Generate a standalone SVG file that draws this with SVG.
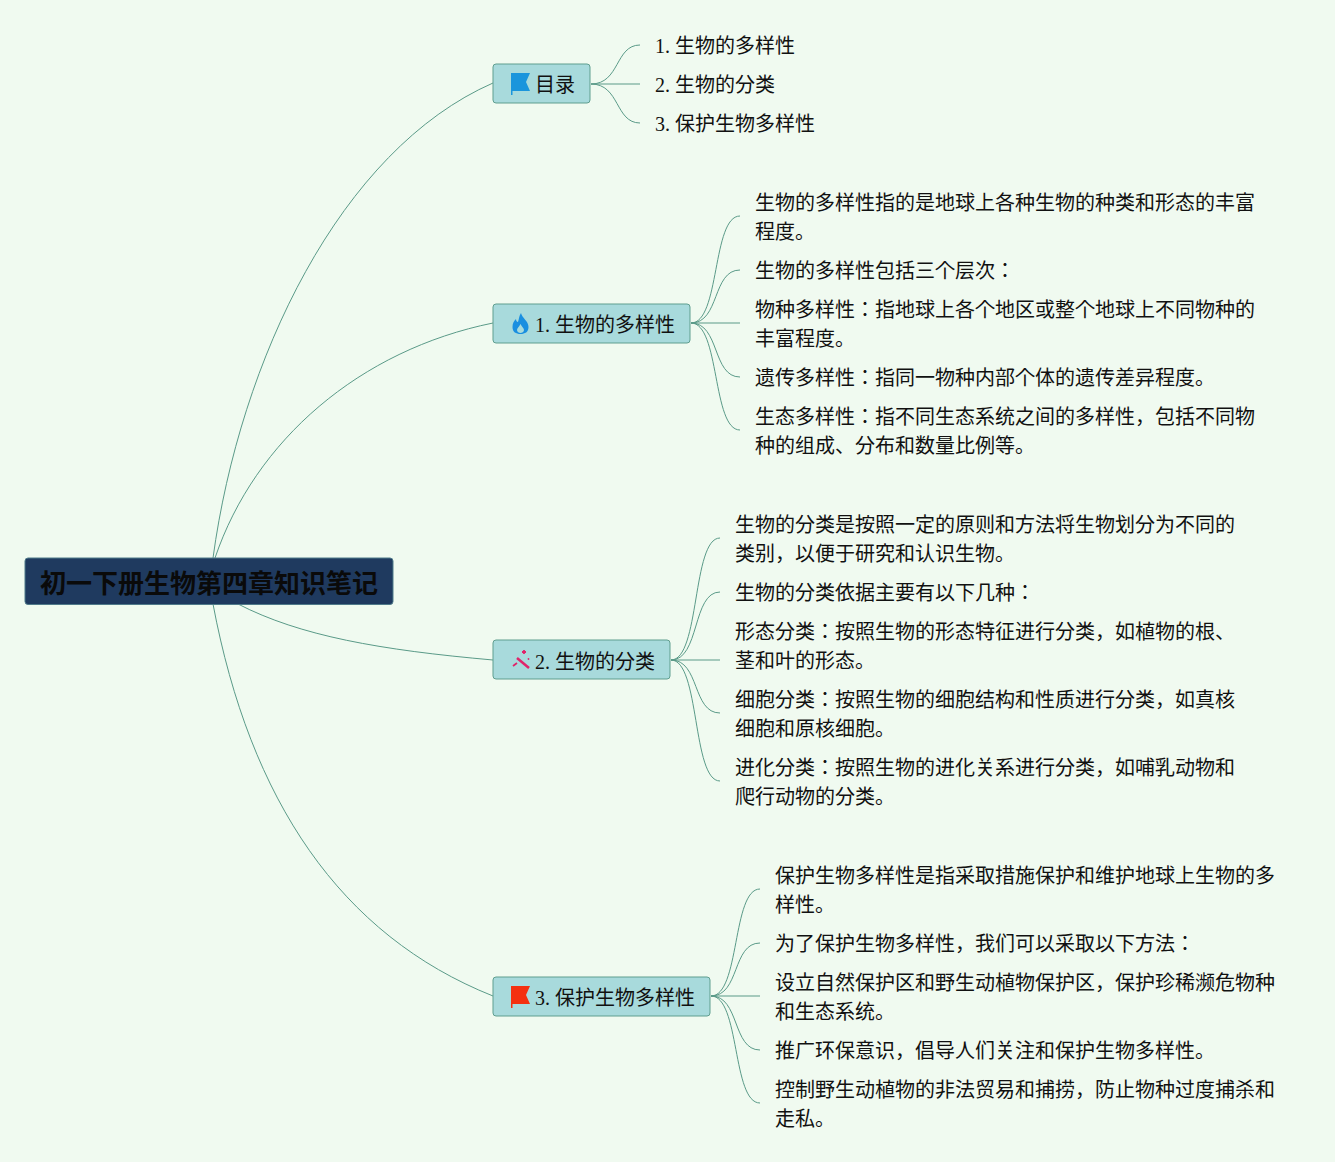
<svg xmlns="http://www.w3.org/2000/svg" width="1335" height="1162" viewBox="0 0 1335 1162">
<style>
text{font-family:"Liberation Serif","Noto Sans CJK JP",serif;font-size:20px;fill:#111}
.root{fill:#1f3a5f;stroke:#4f7a8a;stroke-width:1}
.rt{font-size:26px;font-weight:700;fill:#0a0a0a}
.box{fill:#a8dadc;stroke:#5f9e8f;stroke-width:1}
#connectors path{fill:none;stroke:#5a9a88;stroke-width:1}
</style>
<rect width="1335" height="1162" fill="#f0faf0"/>
<g id="connectors">
<path d="M213 558C240 360 340 150 493 83"/>
<path d="M215 558C255 440 360 350 493 323"/>
<path d="M238 604C300 636 380 650 493 660"/>
<path d="M213 604C250 800 340 935 493 996"/>
<path d="M591 84C620 84 615 45 640 45"/>
<path d="M591 84H640"/>
<path d="M591 84C620 84 615 123 640 123"/>
<path d="M691 323C720 323 712 216 740 216"/>
<path d="M691 323C720 323 712 270 740 270"/>
<path d="M691 323H740"/>
<path d="M691 323C720 323 712 377 740 377"/>
<path d="M691 323C720 323 712 430 740 430"/>
<path d="M671 660C700 660 692 538 720 538"/>
<path d="M671 660C700 660 692 592 720 592"/>
<path d="M671 660H720"/>
<path d="M671 660C700 660 692 713 720 713"/>
<path d="M671 660C700 660 692 781 720 781"/>
<path d="M711 996C740 996 732 889 760 889"/>
<path d="M711 996C740 996 732 943 760 943"/>
<path d="M711 996H760"/>
<path d="M711 996C740 996 732 1050 760 1050"/>
<path d="M711 996C740 996 732 1103 760 1103"/>
</g>
<g id="root"><rect class="root" x="25" y="558" width="368" height="46.500" rx="3"/><text class="rt" x="40" y="593">初一下册生物第四章知识笔记</text></g>
<g id="n0"><rect class="box" x="493" y="64" width="97" height="39" rx="3"/>
<path d="M511 73H530L526 82L530 91H512.500V95H511Z" fill="#1a95dc"/>
<text x="535" y="92">目录</text></g>
<g id="n1"><rect class="box" x="493" y="304" width="197" height="39" rx="3"/>
<path d="M521 313C522 318 528.500 321 528.500 327C528.500 332 525 334 520.500 334C516 334 512.500 332 512.500 327C512.500 323 514 321 516 319C516 321 517 322 518 322C519 319 519 316 521 313ZM520.500 324C519 327 517 328 517 330C517 332 519 333 520.500 333C522 333 524 332 524 330C524 328 522 327 520.500 324Z" fill="#1a8fe0" fill-rule="evenodd"/>
<text x="535" y="332">1. 生物的多样性</text></g>
<g id="n2"><rect class="box" x="493" y="640" width="177" height="39" rx="3"/>
<path d="M517 658L529 668" stroke="#e0246a" stroke-width="2.500" fill="none"/>
<path d="M513 666L517 663M524 650V654M522 652H526" stroke="#e0246a" stroke-width="1.800" fill="none"/>
<circle cx="528.500" cy="659" r="0.900" fill="#e0246a"/>
<text x="535" y="669">2. 生物的分类</text></g>
<g id="n3"><rect class="box" x="493" y="977" width="217" height="39" rx="3"/>
<path d="M511 986H530L526 995L530 1004H512.500V1008H511Z" fill="#f4300f"/>
<text x="535" y="1005">3. 保护生物多样性</text></g>
<g id="t0"><text x="655" y="53">1. 生物的多样性</text></g>
<g id="t1"><text x="655" y="92">2. 生物的分类</text></g>
<g id="t2"><text x="655" y="131">3. 保护生物多样性</text></g>
<g id="t3"><text x="755" y="210">生物的多样性指的是地球上各种生物的种类和形态的丰富</text><text x="755" y="239">程度。</text></g>
<g id="t4"><text x="755" y="278">生物的多样性包括三个层次：</text></g>
<g id="t5"><text x="755" y="317">物种多样性：指地球上各个地区或整个地球上不同物种的</text><text x="755" y="346">丰富程度。</text></g>
<g id="t6"><text x="755" y="385">遗传多样性：指同一物种内部个体的遗传差异程度。</text></g>
<g id="t7"><text x="755" y="424">生态多样性：指不同生态系统之间的多样性，包括不同物</text><text x="755" y="453">种的组成、分布和数量比例等。</text></g>
<g id="t8"><text x="735" y="532">生物的分类是按照一定的原则和方法将生物划分为不同的</text><text x="735" y="561">类别，以便于研究和认识生物。</text></g>
<g id="t9"><text x="735" y="600">生物的分类依据主要有以下几种：</text></g>
<g id="t10"><text x="735" y="639">形态分类：按照生物的形态特征进行分类，如植物的根、</text><text x="735" y="668">茎和叶的形态。</text></g>
<g id="t11"><text x="735" y="707">细胞分类：按照生物的细胞结构和性质进行分类，如真核</text><text x="735" y="736">细胞和原核细胞。</text></g>
<g id="t12"><text x="735" y="775">进化分类：按照生物的进化关系进行分类，如哺乳动物和</text><text x="735" y="804">爬行动物的分类。</text></g>
<g id="t13"><text x="775" y="883">保护生物多样性是指采取措施保护和维护地球上生物的多</text><text x="775" y="912">样性。</text></g>
<g id="t14"><text x="775" y="951">为了保护生物多样性，我们可以采取以下方法：</text></g>
<g id="t15"><text x="775" y="990">设立自然保护区和野生动植物保护区，保护珍稀濒危物种</text><text x="775" y="1019">和生态系统。</text></g>
<g id="t16"><text x="775" y="1058">推广环保意识，倡导人们关注和保护生物多样性。</text></g>
<g id="t17"><text x="775" y="1097">控制野生动植物的非法贸易和捕捞，防止物种过度捕杀和</text><text x="775" y="1126">走私。</text></g>
</svg>
